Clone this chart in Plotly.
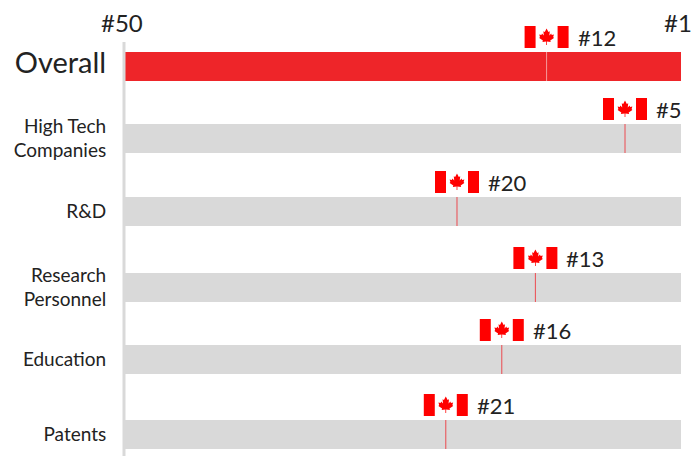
import plotly.graph_objects as go

categories = ["Overall", "High Tech<br>Companies", "R&D", "Research<br>Personnel", "Education", "Patents"]
ranks = [12, 5, 20, 13, 16, 21]
rank_labels = ["#12", "#5", "#20", "#13", "#16", "#21"]
end_labels = ["#50", "#1"]
worst_rank = [50, 50, 50, 50, 50, 50]
row_centers = [66.5, 138.5, 211.5, 287.5, 359.5, 434.5]

FONT = "Lato"
RED = "#EE2529"
GREY = "#D9D9D9"
FLAG = "#FF0000"
BAR_H = 29
LEAF_R = [(0, 8.5), (2, 5), (3.5, 5.8), (3, 1.5), (5, 3.5), (5.6, 2), (8, 2.4), (7.2, 0),
          (8, -1), (4, -3.5), (4.5, -5), (0.4, -4.5), (0.4, -8)]

fig = go.Figure()
fig.add_trace(go.Bar(
    y=row_centers, x=worst_rank, base=0, orientation="h", width=BAR_H,
    marker=dict(color=[RED] + [GREY] * 5, line=dict(width=0)),
    hoverinfo="skip", showlegend=False))
for i, (r, yc) in enumerate(zip(ranks, row_centers)):
    fig.add_trace(go.Scatter(
        x=[r, r], y=[yc - BAR_H / 2, yc + BAR_H / 2], mode="lines",
        line=dict(width=1, color="#F59A9C" if i == 0 else "#EC4A50"),
        hoverinfo="skip", showlegend=False))

FLAG_BOTTOM = 18.5
FLAG_H = 22
shapes = [dict(type="line", xref="paper", yref="y", x0=0, x1=0, y0=42, y1=456,
               line=dict(color=GREY, width=3), layer="above")]
annotations = []
leaf = LEAF_R + [(-x, y) for x, y in reversed(LEAF_R)]
for r, yc, lab in zip(ranks, row_centers, rank_labels):
    mid = FLAG_BOTTOM + FLAG_H / 2
    for a, b in ((-22, -11), (11, 22)):
        shapes.append(dict(type="rect", xref="x", yref="y", xsizemode="pixel", ysizemode="pixel",
                           xanchor=r, yanchor=yc, x0=a, x1=b, y0=FLAG_BOTTOM, y1=FLAG_BOTTOM + FLAG_H,
                           fillcolor=FLAG, line=dict(width=0), layer="above"))
    path = "M" + " L".join(f"{x * 0.92:.2f},{mid + y:.2f}" for x, y in leaf) + " Z"
    shapes.append(dict(type="path", xref="x", yref="y", xsizemode="pixel", ysizemode="pixel",
                       xanchor=r, yanchor=yc, path=path, fillcolor=FLAG, line=dict(width=0), layer="above"))
    annotations.append(dict(x=r, y=yc, xref="x", yref="y", text=lab, showarrow=False,
                            xanchor="left", yanchor="middle", xshift=29, yshift=mid,
                            font=dict(family=FONT, size=22, color="#222222")))

for lab, xpos in zip(end_labels, (-0.004, 0.9955)):
    annotations.append(dict(x=xpos, y=22, xref="paper", yref="y", yanchor="middle", xanchor="center",
                            text=lab, showarrow=False, font=dict(family=FONT, size=24, color="#222222")))

tick_text = [f'<span style="font-size:29px">{categories[0]}</span>'] + categories[1:]

fig.update_layout(
    width=691, height=456, margin=dict(l=124, r=10, t=0, b=0),
    paper_bgcolor="white", plot_bgcolor="white", shapes=shapes, annotations=annotations,
    bargap=0, showlegend=False,
    xaxis=dict(range=[49.73, 0], showgrid=False, zeroline=False, showticklabels=False, ticks=""),
    yaxis=dict(range=[456, 0], showgrid=False, zeroline=False, tickmode="array",
               tickvals=row_centers, ticktext=tick_text, ticks="outside", ticklen=13,
               tickcolor="rgba(0,0,0,0)", tickwidth=0, showline=False,
               tickfont=dict(family=FONT, size=19, color="#222222")),
)
fig.write_html("out.html", config=dict(displayModeBar=False), post_script="document.body.style.margin='0';")
